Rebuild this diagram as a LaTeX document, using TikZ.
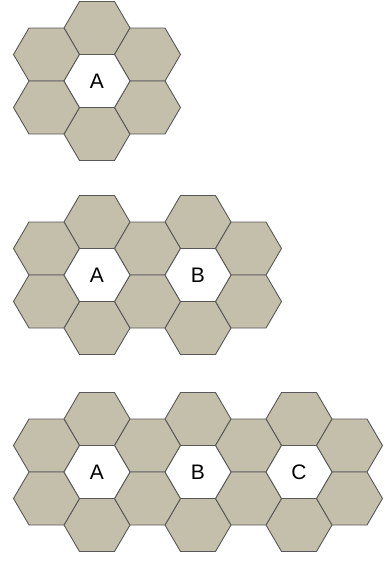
\documentclass[tikz,border=0pt]{standalone}
\usepackage{fontspec}
\setmainfont{Liberation Sans}
\definecolor{hexfill}{RGB}{196,191,170}
\definecolor{hexline}{RGB}{88,88,88}
\tikzset{
  hexgray/.style={fill=hexfill, draw=hexline, line width=0.9pt, line join=round},
  hexwhite/.style={fill=white, draw=hexline, line width=0.9pt, line join=round},
  hexlabel/.style={font=\fontsize{21}{21}\selectfont, inner sep=0pt}
}
\newcommand{\hexpath}{(-33,0) -- (-17.5,-26.5) -- (17.5,-26.5) -- (33,0) -- (17.5,26.5) -- (-17.5,26.5) -- cycle}
\begin{document}
\begin{tikzpicture}[x=1pt,y=-1pt]
\useasboundingbox (0,0) rectangle (390,562);
\foreach \cy/\n/\labs in {81/1/{A}, 275/2/{A,B}, 472/3/{A,B,C}} {
  % gray neighbours above and below each centre
  \foreach \i in {1,...,\n} {
    \pgfmathsetmacro{\cx}{97+101*(\i-1)}
    \draw[hexgray, shift={(\cx,\cy-53)}] \hexpath;
    \draw[hexgray, shift={(\cx,\cy+53)}] \hexpath;
  }
  % gray side neighbours (shared between neighbouring centres)
  \foreach \k in {0,...,\n} {
    \pgfmathsetmacro{\sx}{46.5+101*\k}
    \draw[hexgray, shift={(\sx,\cy-26.5)}] \hexpath;
    \draw[hexgray, shift={(\sx,\cy+26.5)}] \hexpath;
  }
  % white centres with labels
  \foreach \lab [count=\i] in \labs {
    \pgfmathsetmacro{\cx}{97+101*(\i-1)}
    \draw[hexwhite, shift={(\cx,\cy)}] \hexpath;
    \node[hexlabel] (hex-\lab-\cy) at (\cx,\cy) {\lab};
  }
}
\end{tikzpicture}
\end{document}
